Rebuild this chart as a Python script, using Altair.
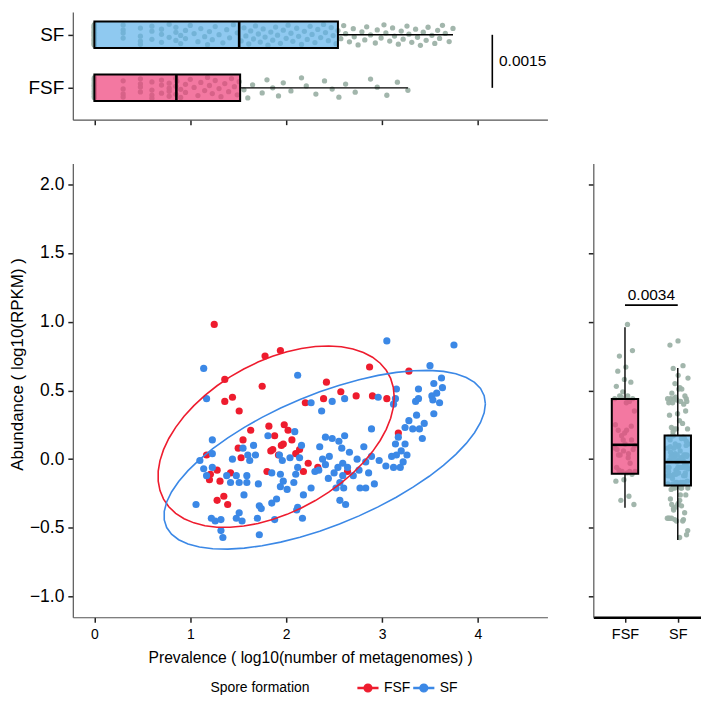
import numpy as np
import pandas as pd
import altair as alt

FONT = "Liberation Sans"
GROUPS = ["FSF", "SF"]
POINT_COLORS = ["#EE1C2E", "#3B88E6"]
BOX_FILLS = {"FSF": "#EE3E79", "SF": "#5FB2EA"}
GRAY = "#9DB2A8"

# ---------------- scatter (main panel) ----------------
fsf_prev = [1.25, 1.78, 1.94, 1.36, 1.75, 1.36, 1.44, 1.51, 2.20, 1.63, 1.82, 1.55, 1.50, 1.53,
            1.17, 1.86, 1.97, 2.14, 2.23, 2.18, 1.80, 1.42, 1.28, 1.21, 1.20, 1.31, 1.35, 1.28,
            1.39, 2.87, 3.28, 2.42, 2.57, 2.39, 2.73, 2.90, 3.05, 3.17, 2.33, 2.64,
            1.88, 1.95, 2.02, 1.92, 2.06, 1.84, 1.98, 2.10]
fsf_abund = [0.98, 0.75, 0.79, 0.58, 0.53, 0.42, 0.45, 0.35, 0.41, 0.21, 0.24, 0.14, 0.08, 0.01,
             0.03, 0.07, 0.11, 0.07, -0.03, -0.09, -0.09, -0.10, -0.08, -0.11, -0.15, -0.16, -0.27,
             -0.30, -0.33, 0.67, 0.64, 0.56, 0.49, 0.44, 0.46, 0.46, 0.44, 0.19, -0.06, -0.09,
             0.17, 0.10, 0.21, 0.03, 0.14, 0.06, 0.25, 0.04]

sf_prev = [1.14, 1.17, 2.12, 1.23, 1.10, 1.23, 1.14, 1.23, 1.17, 1.38, 1.42, 1.48, 1.44, 1.55,
           1.60, 1.66, 1.62, 1.68, 1.51, 1.59, 1.59, 1.71, 1.56, 1.06, 1.22, 1.26, 1.32, 1.32,
           1.34, 1.48, 1.51, 1.54, 1.70, 1.72, 1.74, 1.72, 1.85, 1.90, 1.88, 2.12, 2.17, 2.18,
           1.81, 1.85, 1.93, 1.96, 2.04, 1.94, 1.97, 1.94, 2.01, 2.08, 2.10, 2.12, 2.14, 2.09,
           2.16, 3.05, 3.75, 3.50, 3.54, 3.62, 3.63, 3.57, 3.52, 3.53, 3.60, 3.38, 3.38, 3.35,
           3.15, 3.14, 3.12, 2.96, 2.61, 2.48, 2.26, 2.37, 3.54, 3.36, 3.44, 3.39, 3.32, 3.28,
           3.24, 3.42, 2.89, 2.41, 2.48, 2.61, 2.55, 2.35, 2.81, 3.17, 3.14, 3.24, 3.20, 3.26,
           3.15, 3.22, 3.19, 3.12, 3.10, 3.04, 2.97, 2.89, 2.83, 2.76, 2.92, 2.83, 2.77, 2.59,
           2.54, 2.59, 2.56, 2.52, 2.60, 2.56, 2.62, 2.41, 2.34, 2.30, 2.26, 2.11,
           2.45, 2.50, 2.66, 2.70, 2.38, 2.58, 2.74, 2.44, 2.64, 2.86]
sf_abund = [0.66, 0.44, 0.61, 0.14, -0.01, 0.04, -0.07, -0.06, -0.12, -0.12, -0.17, -0.12, 0.00,
            0.08, 0.03, 0.10, -0.01, 0.03, -0.17, -0.12, -0.17, -0.18, -0.26, -0.33, -0.43, -0.45,
            -0.44, -0.52, -0.57, -0.43, -0.39, -0.45, -0.43, -0.34, -0.36, -0.55, -0.32, -0.29,
            -0.44, -0.35, -0.43, -0.26, 0.17, -0.10, 0.03, -0.01, 0.01, -0.11, -0.16, -0.20, -0.22,
            -0.17, -0.11, -0.06, 0.01, 0.20, 0.10, 0.86, 0.83, 0.68, 0.55, 0.59, 0.52, 0.48, 0.46,
            0.43, 0.41, 0.51, 0.44, 0.42, 0.51, 0.44, 0.40, 0.45, 0.44, 0.42, 0.41, 0.35, 0.33,
            0.32, 0.26, 0.22, 0.22, 0.28, 0.23, 0.15, 0.22, 0.16, 0.15, 0.17, 0.13, 0.09, 0.09,
            0.16, 0.11, 0.11, 0.06, 0.03, 0.03, -0.02, -0.06, -0.06, 0.02, -0.05, -0.01, 0.02,
            -0.02, -0.08, -0.18, -0.21, -0.21, -0.03, -0.06, -0.12, -0.17, -0.21, -0.21, -0.30,
            -0.33, -0.04, -0.08, -0.09, -0.21, -0.37,
            0.02, -0.10, 0.05, -0.12, 0.00, 0.08, 0.00, -0.14, -0.06, -0.10]

# ---------------- top marginal panel (prevalence) ----------------
top_fsf_prev = [0, 0, 0, 0, 0, 0, 0, 0, 0, 0, 0, 0, 0, 0, 0, 0, 0, 0, 0, 0, 0, 0,
                0.30, 0.30, 0.30, 0.30, 0.48, 0.48, 0.48, 0.48, 0.60, 0.60, 0.60, 0.60, 0.70,
                0.70, 0.70, 0.78, 0.78, 0.78, 0.78, 0.85, 0.85, 0.85,
                0.86, 0.90, 0.90, 0.95, 0.95, 1.00, 1.04, 1.08, 1.11, 1.15, 1.18, 1.20, 1.23,
                1.26, 1.30, 1.32, 1.36, 1.40, 1.43, 1.46, 1.49, 1.51,
                1.56, 1.60, 1.65, 1.75, 1.80, 1.86, 1.92, 1.97, 2.05, 2.16, 2.21, 2.31, 2.40,
                2.48, 2.55, 2.62, 2.72, 2.88, 2.95, 3.05, 3.16, 3.27]
top_sf_prev = [0, 0, 0, 0, 0, 0, 0, 0, 0, 0, 0, 0, 0, 0, 0, 0, 0, 0, 0, 0,
               0, 0, 0, 0, 0, 0, 0, 0, 0, 0, 0, 0, 0, 0, 0, 0, 0, 0, 0, 0,
               0.30, 0.30, 0.30, 0.30, 0.48, 0.48, 0.48, 0.48, 0.60, 0.60, 0.60, 0.70, 0.70,
               0.70, 0.78, 0.78, 0.85, 0.85, 0.85, 0.90, 0.90, 0.95, 0.95, 1.00, 1.04, 1.08,
               1.11, 1.15, 1.18, 1.20, 1.23, 1.26, 1.30, 1.34, 1.38, 1.41, 1.45, 1.49,
               1.53, 1.56, 1.58, 1.61, 1.63, 1.66, 1.68, 1.71, 1.73, 1.76, 1.78, 1.81, 1.84,
               1.86, 1.89, 1.91, 1.94, 1.97, 2.00, 2.02, 2.05, 2.07, 2.11, 2.13, 2.16, 2.19,
               2.22, 2.25, 2.27, 2.30, 2.33, 2.36, 2.39, 2.41, 2.44, 2.47, 2.49, 2.52, 2.54,
               2.57, 2.60, 2.62, 2.66, 2.70, 2.71, 2.75, 2.79, 2.82, 2.84, 2.88, 2.93, 2.95,
               2.99, 3.02, 3.04, 3.08, 3.11, 3.13, 3.17, 3.20, 3.22, 3.26, 3.28, 3.31, 3.35,
               3.37, 3.40, 3.43, 3.46, 3.48, 3.52, 3.55, 3.58, 3.60, 3.63, 3.66, 3.70, 3.74]

# box statistics (order: FSF, SF)
top_q1 = [0.0, 0.0]
top_med = [0.855, 1.51]
top_q3 = [1.52, 2.54]
top_lo = [0.0, 0.0]
top_hi = [3.27, 3.74]

right_q1 = [-0.106, -0.191]
right_med = [0.104, -0.022]
right_q3 = [0.437, 0.172]
right_lo = [-0.353, -0.589]
right_hi = [0.959, 0.662]

p_top = "0.0015"
p_right = "0.0034"

x_ticks = [0, 1, 2, 3, 4]
y_ticks = [-1.0, -0.5, 0.0, 0.5, 1.0, 1.5, 2.0]


# ---------------- stat_ellipse (t-distribution, 95%) ----------------
def f_quantile_df2(level, dfd):
    return dfd / 2.0 * ((1.0 - level) ** (-2.0 / dfd) - 1.0)


def stat_ellipse(xs, ys, level=0.95, segments=51, nu=5):
    X = np.column_stack([xs, ys]).astype(float)
    n, p = X.shape
    wt = np.ones(n)
    loc = X.mean(axis=0)
    w = np.ones(n)
    Xc = X - loc
    for _ in range(25):
        w0 = w.copy()
        Xc = X - loc
        A = np.sqrt(w / w.sum())[:, None] * Xc
        _, d, vt = np.linalg.svd(A, full_matrices=False)
        wX = (Xc @ vt.T) / d
        Q = (wX ** 2).sum(axis=1)
        w = wt * (nu + p) / (nu + Q)
        loc = (w[:, None] * X).sum(axis=0) / w.sum()
        if np.all(np.abs(w - w0) < 0.01):
            break
    S = np.sqrt(w)[:, None] * Xc
    cov = S.T @ S / wt.sum()
    R = np.linalg.cholesky(cov).T
    radius = np.sqrt(2 * f_quantile_df2(level, n - 1))
    ang = np.arange(segments + 1) * 2 * np.pi / segments
    circ = np.column_stack([np.cos(ang), np.sin(ang)])
    return loc + radius * (circ @ R)


scatter_df = pd.DataFrame({
    "prev": fsf_prev + sf_prev,
    "abund": fsf_abund + sf_abund,
    "group": ["FSF"] * len(fsf_prev) + ["SF"] * len(sf_prev),
})

ell_rows = []
for g, xs, ys in [("FSF", fsf_prev, fsf_abund), ("SF", sf_prev, sf_abund)]:
    pts = stat_ellipse(xs, ys)
    for k, (ex, ey) in enumerate(pts):
        ell_rows.append({"prev": ex, "abund": ey, "group": g, "k": k})
ell_df = pd.DataFrame(ell_rows)

top_df = pd.DataFrame({
    "prev": top_fsf_prev + top_sf_prev,
    "group": ["FSF"] * len(top_fsf_prev) + ["SF"] * len(top_sf_prev),
})
top_box_df = pd.DataFrame({"group": GROUPS, "q1": top_q1, "med": top_med, "q3": top_q3,
                           "lo": top_lo, "hi": top_hi})
right_box_df = pd.DataFrame({"group": GROUPS, "q1": right_q1, "med": right_med, "q3": right_q3,
                             "lo": right_lo, "hi": right_hi})

# ---------------- scales & axes ----------------
MAIN_W, MAIN_H = 476, 455
TOP_H = 108
RIGHT_W = 108

x_scale = alt.Scale(domain=[-0.225, 4.725], nice=False, zero=False)
y_scale = alt.Scale(domain=[-1.15, 2.15], nice=False, zero=False)
top_y_scale = alt.Scale(domain=[0.4, 2.43], nice=False, zero=False)
right_x_scale = alt.Scale(domain=[0.4, 2.44], nice=False, zero=False)
color_scale = alt.Scale(domain=GROUPS, range=POINT_COLORS)

common_axis = dict(grid=False, tickSize=5, tickWidth=1.5, tickColor="#222",
                   domainColor="#555", domainWidth=1.2, labelColor="black",
                   titleColor="black", labelFont=FONT, titleFont=FONT,
                   titleFontWeight="normal")

main_x_axis = alt.Axis(values=x_ticks, format="d",
                       title="Prevalence ( log10(number of metagenomes) )",
                       labelFontSize=14, titleFontSize=15.7, labelPadding=5,
                       titlePadding=9, **common_axis)
main_y_axis = alt.Axis(values=y_ticks, format=".1f", title="Abundance ( log10(RPKM) )",
                       labelFontSize=17.5, titleFontSize=17, labelPadding=4,
                       titlePadding=3, titleY=201, **common_axis)
top_x_axis = alt.Axis(values=x_ticks, labels=False, title=None, **common_axis)
top_y_axis = alt.Axis(values=[1, 2], labelExpr="datum.value == 1 ? 'FSF' : 'SF'", title=None,
                      labelFontSize=19, labelPadding=4, **common_axis)
right_axis_style = dict(common_axis)
right_axis_style.update(domainColor="black", domainWidth=2.3)
right_x_axis = alt.Axis(values=[1, 2], labelExpr="datum.value == 1 ? 'FSF' : 'SF'", title=None,
                        labelFontSize=14.5, labelPadding=5, **right_axis_style)
right_y_axis = alt.Axis(values=y_ticks, labels=False, title=None, **common_axis)

JITTER = "((datum.idx * 0.6180339887) % 1 - 0.5) * 0.4"
GPOS = "datum.group == 'SF' ? 2 : 1"
BOXCOLOR = "datum.group == 'SF' ? '%s' : '%s'" % (BOX_FILLS["SF"], BOX_FILLS["FSF"])

# ---------------- top panel ----------------
tx = lambda f: alt.X(f, scale=x_scale, axis=top_x_axis)
ty = lambda f: alt.Y(f, scale=top_y_scale, axis=top_y_axis)

top_pts = alt.Chart(top_df).transform_window(idx="row_number()").transform_calculate(
    gpos=GPOS, yj="datum.gpos + " + JITTER
).mark_circle(size=28, color=GRAY, opacity=0.95).encode(x=tx("prev:Q"), y=ty("yj:Q"))

tb = alt.Chart(top_box_df).transform_calculate(
    gpos=GPOS, b0="datum.gpos - 0.25", b1="datum.gpos + 0.25", boxcolor=BOXCOLOR)
top_rect = tb.mark_rect(stroke="black", strokeWidth=2, fillOpacity=0.7).encode(
    x=tx("q1:Q"), x2="q3:Q", y=ty("b0:Q"), y2="b1:Q",
    fill=alt.Fill("boxcolor:N", scale=None))
top_med_rule = tb.mark_rule(color="black", strokeWidth=2.6).encode(
    x=tx("med:Q"), y=ty("b0:Q"), y2="b1:Q")
top_wh_hi = tb.mark_rule(color="black", strokeWidth=1.4).encode(
    x=tx("q3:Q"), x2="hi:Q", y=ty("gpos:Q"))
top_wh_lo = tb.mark_rule(color="black", strokeWidth=1.4).encode(
    x=tx("lo:Q"), x2="q1:Q", y=ty("gpos:Q"))
ptop = alt.Chart(pd.DataFrame({"p": [p_top]}))
top_bracket = ptop.mark_rule(color="black", strokeWidth=1.6).encode(
    x=alt.datum(4.15), y=alt.datum(1), y2=alt.datum(2))
top_text = ptop.mark_text(align="left", baseline="middle", font=FONT, fontSize=15.5,
                          color="black").encode(x=alt.datum(4.22), y=alt.datum(1.51), text="p:N")

top_panel = alt.layer(top_pts, top_rect, top_med_rule, top_wh_hi, top_wh_lo,
                      top_bracket, top_text).properties(width=MAIN_W, height=TOP_H)

# ---------------- main panel ----------------
SYMBOL = ("M-2,-0.12L2,-0.12L2,0.12L-2,0.12Z "
          "M-0.8,0A0.8,0.8,0,1,1,0.8,0A0.8,0.8,0,1,1,-0.8,0Z")
legend = alt.Legend(title="Spore formation", orient="none", legendX=138, legendY=671,
                    direction="horizontal", titleOrient="left", titleFont=FONT,
                    titleFontSize=14, titleFontWeight="normal", titleColor="black",
                    titlePadding=51, titleBaseline="middle", titleAnchor="middle",
                    labelFont=FONT, labelFontSize=14, labelColor="black", labelOffset=9,
                    columnPadding=0, symbolType=SYMBOL, symbolSize=100,
                    symbolStrokeWidth=1.2)

main_pts = alt.Chart(scatter_df).mark_circle(size=52, opacity=1).encode(
    x=alt.X("prev:Q", scale=x_scale, axis=main_x_axis),
    y=alt.Y("abund:Q", scale=y_scale, axis=main_y_axis),
    color=alt.Color("group:N", scale=color_scale, legend=legend))
main_ell = alt.Chart(ell_df).mark_line(strokeWidth=1.6).encode(
    x=alt.X("prev:Q", scale=x_scale, axis=main_x_axis),
    y=alt.Y("abund:Q", scale=y_scale, axis=main_y_axis),
    color=alt.Color("group:N", scale=color_scale, legend=legend),
    detail="group:N", order="k:Q")
main_panel = alt.layer(main_pts, main_ell).properties(width=MAIN_W, height=MAIN_H)

# ---------------- right panel ----------------
rx = lambda f: alt.X(f, scale=right_x_scale, axis=right_x_axis)
ry = lambda f: alt.Y(f, scale=y_scale, axis=right_y_axis)

right_pts = alt.Chart(scatter_df).transform_window(idx="row_number()").transform_calculate(
    gpos=GPOS, xj="datum.gpos + " + JITTER
).mark_circle(size=28, color=GRAY, opacity=0.95).encode(x=rx("xj:Q"), y=ry("abund:Q"))
rb = alt.Chart(right_box_df).transform_calculate(
    gpos=GPOS, b0="datum.gpos - 0.25", b1="datum.gpos + 0.25", boxcolor=BOXCOLOR)
right_rect = rb.mark_rect(stroke="black", strokeWidth=2, fillOpacity=0.7).encode(
    x=rx("b0:Q"), x2="b1:Q", y=ry("q1:Q"), y2="q3:Q",
    fill=alt.Fill("boxcolor:N", scale=None))
right_med_rule = rb.mark_rule(color="black", strokeWidth=2.6).encode(
    x=rx("b0:Q"), x2="b1:Q", y=ry("med:Q"))
right_wh_hi = rb.mark_rule(color="black", strokeWidth=1.4).encode(
    x=rx("gpos:Q"), y=ry("q3:Q"), y2="hi:Q")
right_wh_lo = rb.mark_rule(color="black", strokeWidth=1.4).encode(
    x=rx("gpos:Q"), y=ry("lo:Q"), y2="q1:Q")
pright = alt.Chart(pd.DataFrame({"p": [p_right]}))
right_bracket = pright.mark_rule(color="black", strokeWidth=1.6).encode(
    x=alt.datum(1), x2=alt.datum(2), y=alt.datum(1.12))
right_text = pright.mark_text(align="center", baseline="alphabetic", font=FONT, fontSize=15.5,
                              color="black").encode(x=alt.datum(1.5), y=alt.datum(1.155), text="p:N")
right_panel = alt.layer(right_pts, right_rect, right_med_rule, right_wh_hi, right_wh_lo,
                        right_bracket, right_text).properties(width=RIGHT_W, height=MAIN_H)

filler = alt.Chart(pd.DataFrame({"a": [0]})).mark_point(opacity=0).encode(
    x=alt.value(0), y=alt.value(0)).properties(width=RIGHT_W, height=10)

chart = alt.concat(top_panel, filler, main_panel, right_panel, columns=2,
                   spacing={"row": 38, "column": 40}, align="each").properties(
    padding={"left": 0, "top": 0, "right": 0, "bottom": 0}).configure_view(stroke=None)

chart.save("out.html", embed_options={"renderer": "svg", "actions": False})
